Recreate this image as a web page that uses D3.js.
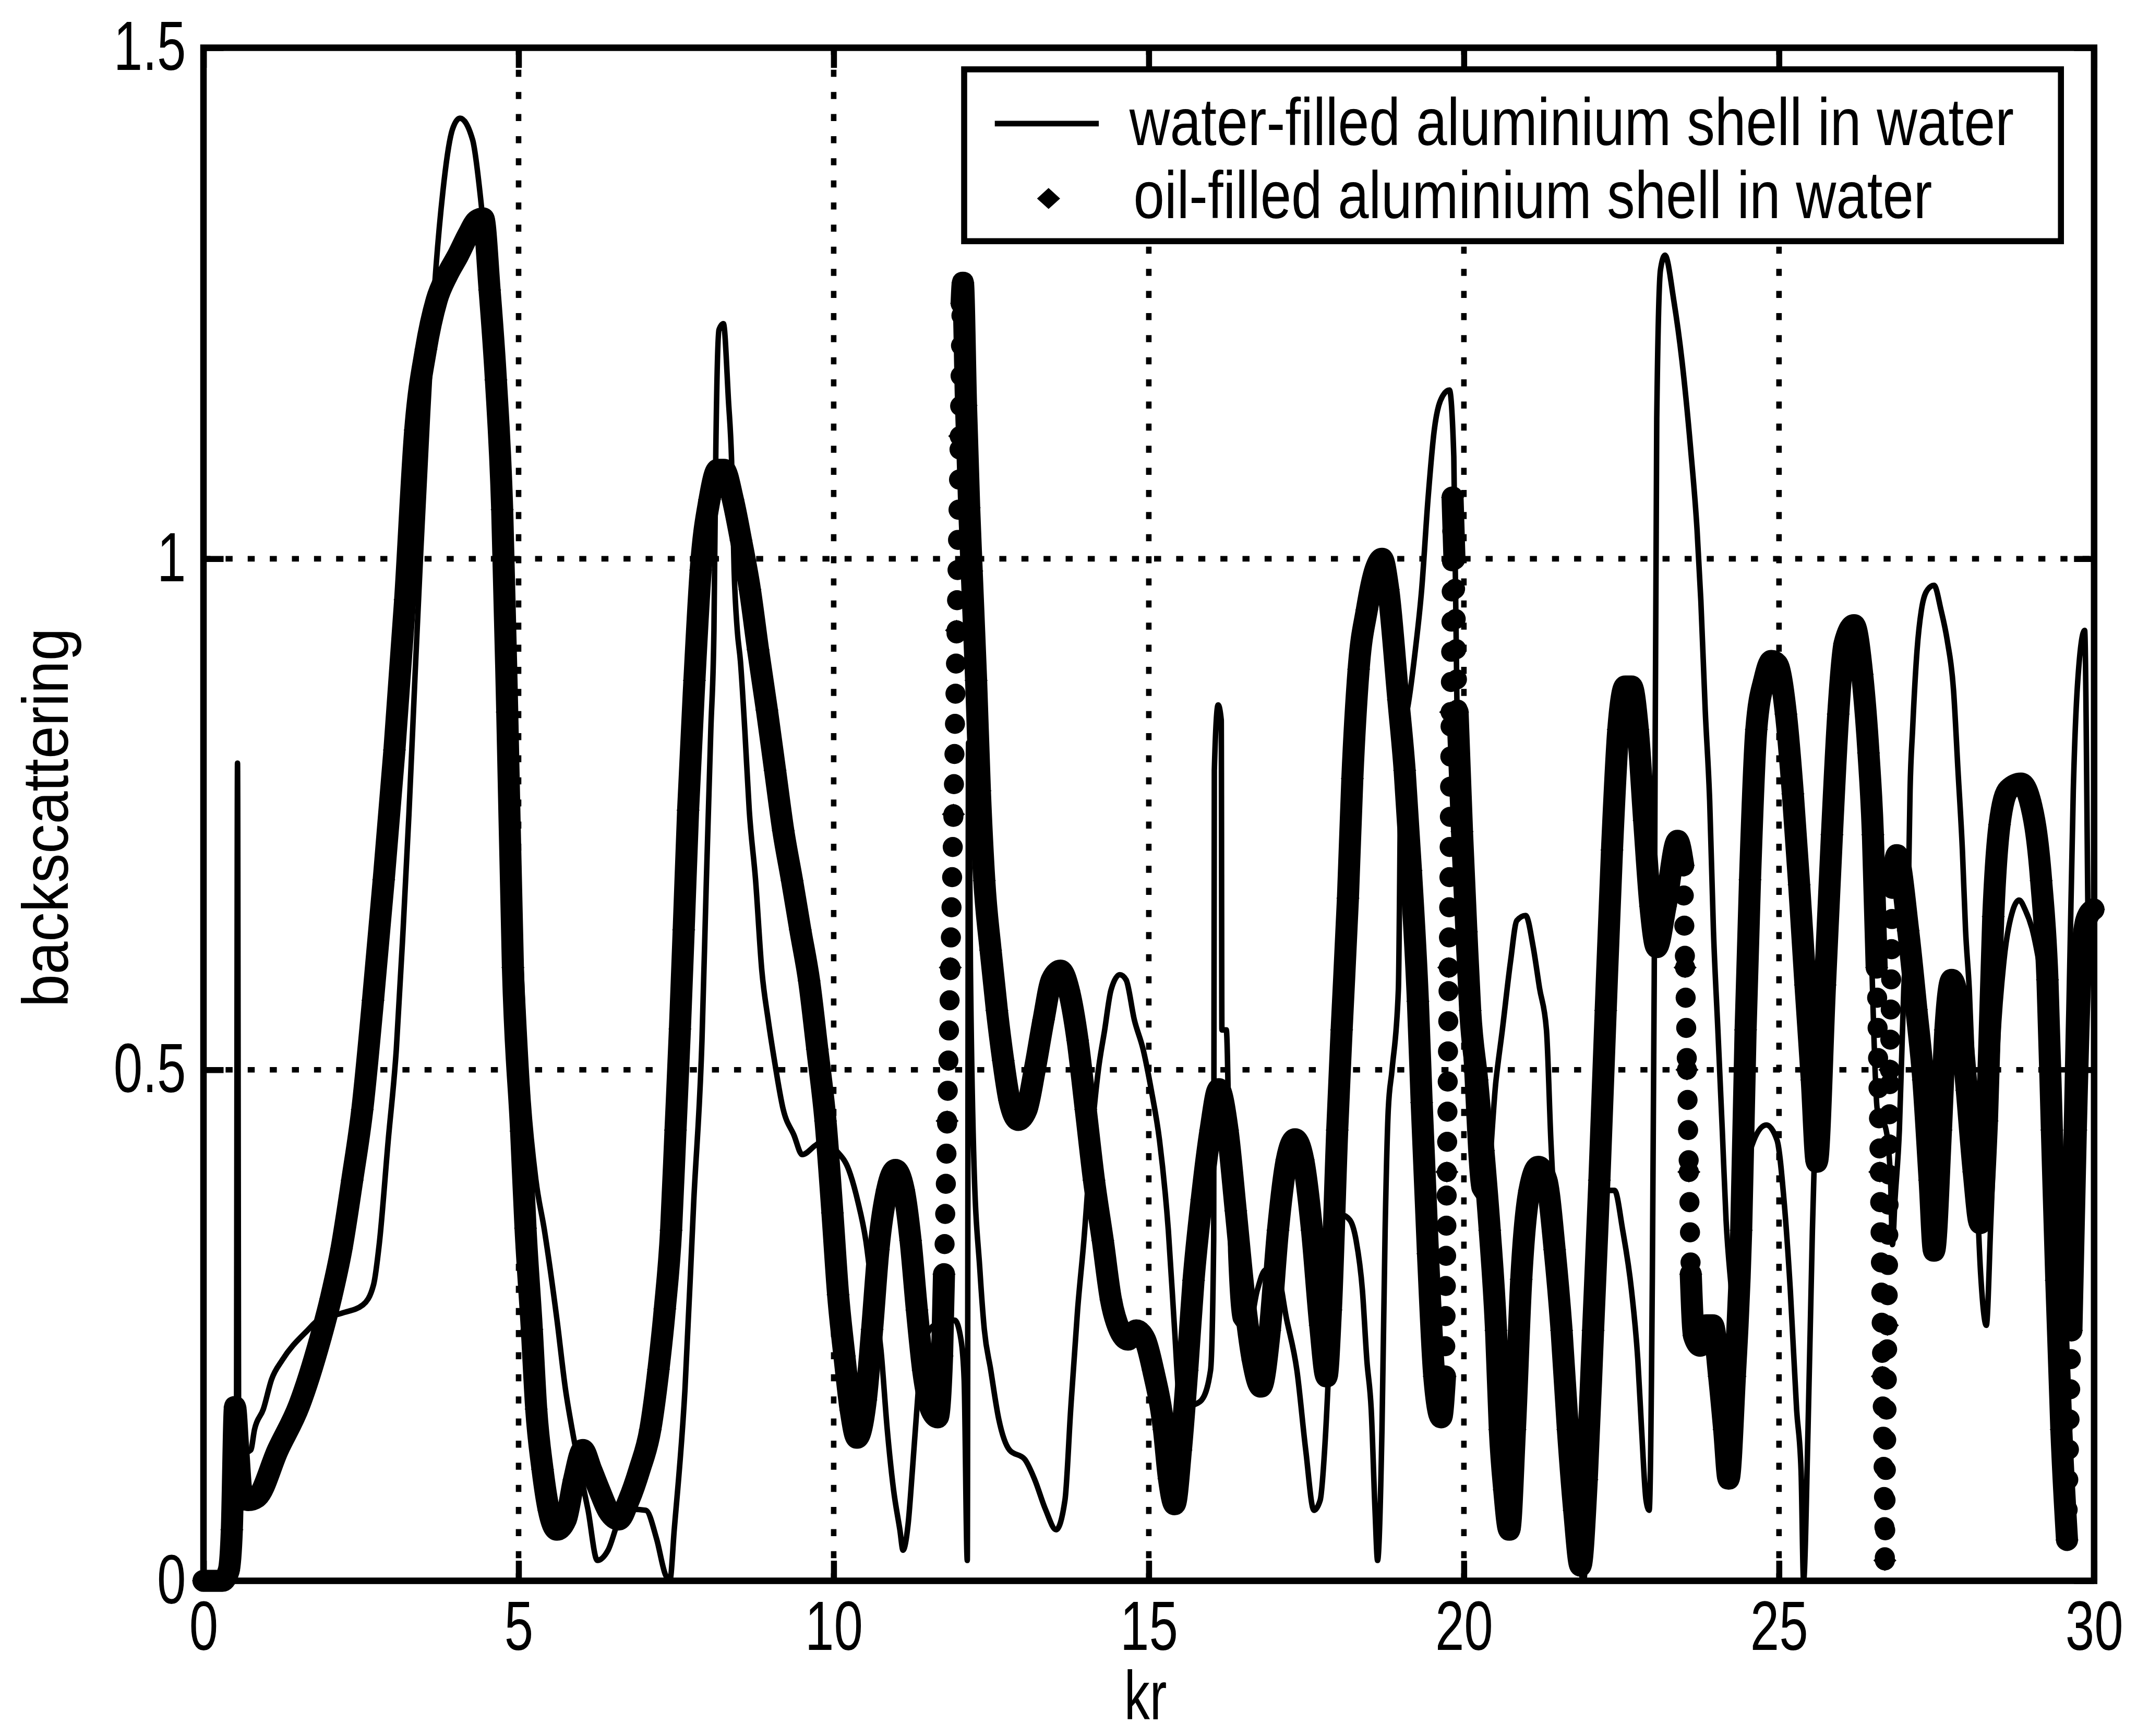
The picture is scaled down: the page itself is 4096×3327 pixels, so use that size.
<!DOCTYPE html>
<html>
<head>
<meta charset="utf-8">
<script src="https://cdn.jsdelivr.net/npm/d3@7"></script>
<style>
  html, body { margin: 0; padding: 0; background: #fff; }
  svg { display: block; }
  text { font-family: "Liberation Sans", Arial, sans-serif; fill: #000; }
</style>
</head>
<body>
<div id="chart"></div>
<script>
// tick values and labels
const xTicks = [0, 5, 10, 15, 20, 25, 30];
const yTicks = [0, 0.5, 1, 1.5];
const xGrid = [5, 10, 15, 20, 25];
const yGrid = [0.5, 1];
const legendLabels = ["water-filled aluminium shell in water", "oil-filled aluminium shell in water"];

// [kr, backscattering]
const waterFilled = [
  [0,0],[0.3,0],[0.45,0.03],[0.52,0.05],[0.54,0.8],[0.56,0.12],[0.65,0.125],[0.75,0.128],[0.81,0.148],
  [0.95,0.168],[1.08,0.197],[1.25,0.216],[1.65,0.245],[1.82,0.255],[2.2,0.262],[2.53,0.27],[2.7,0.29],
  [2.79,0.33],[2.93,0.43],[3.06,0.52],[3.17,0.64],[3.26,0.75],[3.36,0.89],[3.45,1.01],[3.53,1.11],
  [3.65,1.25],[3.8,1.36],[3.95,1.42],[4.07,1.431],[4.27,1.41],[4.4,1.351],[4.6,1.2],[4.8,0.95],[5.0,0.65],
  [5.15,0.47],[5.275,0.392],[5.41,0.343],[5.61,0.255],[5.745,0.187],[5.85,0.148],[6.0,0.1],[6.1,0.07],
  [6.25,0.02],[6.42,0.03],[6.6,0.06],[6.8,0.07],[7.02,0.069],[7.19,0.041],[7.33,0.006],[7.4,0],[7.47,0.05],
  [7.64,0.187],[7.78,0.372],[7.91,0.529],[7.98,0.686],[8.05,0.832],[8.1,0.93],[8.13,1.107],[8.18,1.224],
  [8.25,1.23],[8.33,1.155],[8.38,1.096],[8.42,0.989],[8.47,0.93],[8.52,0.9],[8.59,0.832],[8.66,0.754],
  [8.76,0.686],[8.86,0.597],[8.96,0.549],[9.06,0.509],[9.2,0.461],[9.37,0.436],[9.5,0.417],[9.71,0.426],
  [9.84,0.431],[10.04,0.421],[10.24,0.402],[10.38,0.372],[10.51,0.333],[10.61,0.284],[10.75,0.226],
  [10.85,0.148],[10.95,0.089],[11.05,0.05],[11.1,0.03],[11.18,0.055],[11.25,0.109],[11.32,0.168],
  [11.4,0.225],[11.6,0.25],[11.8,0.252],[11.92,0.255],[12.02,0.236],[12.07,0.197],[12.12,0.02],[12.14,0.82],
  [12.17,0.6],[12.22,0.421],[12.32,0.304],[12.39,0.246],[12.49,0.207],[12.62,0.158],[12.79,0.128],
  [13.03,0.119],[13.19,0.099],[13.36,0.07],[13.53,0.05],[13.67,0.079],[13.76,0.167],[13.87,0.265],
  [13.97,0.333],[14.1,0.44],[14.2,0.5],[14.3,0.539],[14.4,0.578],[14.54,0.593],[14.64,0.588],[14.77,0.549],
  [14.91,0.52],[15.04,0.48],[15.17,0.431],[15.31,0.343],[15.41,0.245],[15.48,0.18],[15.54,0.167],
  [15.71,0.172],[15.84,0.177],[15.98,0.206],[16.03,0.334],[16.04,0.793],[16.1,0.857],[16.15,0.842],
  [16.16,0.539],[16.23,0.539],[16.27,0.441],[16.3,0.323],[16.38,0.255],[16.58,0.245],[16.72,0.284],
  [16.85,0.304],[17.02,0.304],[17.19,0.255],[17.35,0.206],[17.49,0.128],[17.62,0.069],[17.72,0.079],
  [17.79,0.128],[17.86,0.216],[17.93,0.343],[18.06,0.358],[18.19,0.353],[18.29,0.333],[18.39,0.284],
  [18.46,0.216],[18.53,0.167],[18.59,0.069],[18.63,0.02],[18.7,0.148],[18.75,0.343],[18.8,0.461],
  [18.86,0.5],[18.96,0.578],[19.01,0.833],[19.1,0.852],[19.23,0.911],[19.33,0.97],[19.43,1.058],
  [19.53,1.126],[19.67,1.16],[19.77,1.165],[19.84,1.1],[19.9,0.8],[19.97,0.6],[20.04,0.509],[20.17,0.382],
  [20.34,0.372],[20.51,0.49],[20.61,0.539],[20.74,0.606],[20.84,0.646],[20.98,0.651],[21.1,0.62],
  [21.2,0.58],[21.31,0.539],[21.38,0.431],[21.5,0.3],[21.65,0.15],[21.8,0.04],[21.9,0.0],[22.0,0.15],
  [22.1,0.33],[22.18,0.382],[22.39,0.382],[22.52,0.343],[22.66,0.284],[22.76,0.216],[22.82,0.148],
  [22.89,0.079],[22.94,0.069],[22.99,0.295],[23.02,0.588],[23.06,1.137],[23.12,1.283],[23.19,1.297],
  [23.33,1.253],[23.46,1.194],[23.6,1.106],[23.7,1.028],[23.76,0.959],[23.83,0.851],[23.9,0.763],
  [23.96,0.636],[24.03,0.539],[24.1,0.441],[24.16,0.353],[24.23,0.295],[24.33,0.245],[24.47,0.392],
  [24.6,0.431],[24.8,0.446],[24.97,0.431],[25.08,0.372],[25.18,0.284],[25.28,0.167],[25.35,0.108],
  [25.39,0.0],[25.46,0.147],[25.53,0.343],[25.6,0.5],[25.7,0.6],[25.85,0.75],[26.0,0.9],[26.2,0.94],
  [26.35,0.85],[26.45,0.65],[26.56,0.461],[26.7,0.441],[26.77,0.392],[26.8,0.329],[26.84,0.372],
  [26.91,0.441],[26.98,0.579],[27.05,0.666],[27.08,0.774],[27.12,0.833],[27.19,0.91],[27.26,0.95],
  [27.36,0.97],[27.46,0.974],[27.57,0.95],[27.67,0.92],[27.77,0.871],[27.84,0.793],[27.91,0.715],
  [27.96,0.637],[28.02,0.578],[28.1,0.45],[28.2,0.3],[28.29,0.25],[28.36,0.35],[28.47,0.529],
  [28.57,0.607],[28.71,0.656],[28.81,0.666],[28.91,0.656],[29.02,0.637],[29.12,0.607],[29.26,0.549],
  [29.33,0.49],[29.4,0.45],[29.5,0.33],[29.6,0.559],[29.67,0.774],[29.74,0.88],[29.85,0.93],[29.92,0.6],
  [30,0.62]
];

const oilFilled = [
  [0,0],[0.3,0],[0.4,0.01],[0.45,0.05],[0.5,0.17],[0.55,0.13],[0.6,0.09],[0.71,0.079],[0.85,0.082],
  [1.18,0.128],[1.52,0.172],[1.85,0.236],[2.02,0.276],[2.19,0.325],[2.36,0.392],[2.52,0.461],[2.69,0.568],
  [2.86,0.686],[3.03,0.813],[3.2,0.96],[3.36,1.126],[3.53,1.205],[3.7,1.253],[3.87,1.278],[4.04,1.297],
  [4.2,1.317],[4.34,1.331],[4.44,1.333],[4.54,1.263],[4.64,1.175],[4.74,1.048],[4.82,0.85],[4.91,0.6],
  [5.04,0.44],[5.11,0.345],[5.21,0.246],[5.28,0.168],[5.38,0.109],[5.48,0.069],[5.61,0.05],[5.75,0.06],
  [5.88,0.099],[6.02,0.128],[6.15,0.109],[6.28,0.089],[6.42,0.069],[6.59,0.06],[6.75,0.079],[6.92,0.109],
  [7.09,0.148],[7.22,0.207],[7.32,0.266],[7.42,0.343],[7.49,0.441],[7.56,0.54],[7.62,0.637],[7.69,0.754],
  [7.79,0.881],[7.89,0.989],[8.03,1.058],[8.16,1.087],[8.26,1.087],[8.4,1.058],[8.53,1.018],[8.67,0.97],
  [8.8,0.911],[8.94,0.852],[9.07,0.793],[9.2,0.734],[9.34,0.685],[9.47,0.637],[9.61,0.587],[9.74,0.52],
  [9.87,0.45],[9.98,0.36],[10.07,0.28],[10.17,0.22],[10.27,0.167],[10.37,0.14],[10.51,0.177],[10.61,0.246],
  [10.71,0.324],[10.85,0.383],[10.98,0.402],[11.11,0.383],[11.22,0.333],[11.32,0.265],[11.42,0.206],
  [11.55,0.167],[11.65,0.16],[11.72,0.22],[11.75,0.3],[11.8,0.45],[11.85,0.6],[11.9,0.75],[11.95,0.93],
  [12.0,1.12],[12.03,1.25],[12.05,1.27],[12.1,1.15],[12.15,1.05],[12.19,0.988],[12.26,0.881],[12.32,0.773],
  [12.39,0.685],[12.49,0.617],[12.59,0.558],[12.69,0.509],[12.79,0.47],[12.93,0.451],[13.06,0.461],
  [13.19,0.5],[13.33,0.549],[13.46,0.588],[13.6,0.597],[13.73,0.578],[13.87,0.529],[14.0,0.461],
  [14.13,0.392],[14.27,0.333],[14.4,0.275],[14.54,0.245],[14.67,0.236],[14.8,0.245],[14.94,0.236],
  [15.07,0.206],[15.24,0.148],[15.32,0.1],[15.41,0.075],[15.51,0.128],[15.61,0.206],[15.71,0.294],
  [15.84,0.373],[15.98,0.441],[16.11,0.481],[16.25,0.441],[16.38,0.362],[16.52,0.275],[16.65,0.216],
  [16.78,0.19],[16.92,0.245],[17.05,0.343],[17.19,0.412],[17.32,0.432],[17.45,0.412],[17.59,0.343],
  [17.72,0.25],[17.82,0.2],[17.89,0.265],[17.99,0.441],[18.06,0.539],[18.16,0.668],[18.23,0.785],
  [18.33,0.892],[18.46,0.95],[18.6,0.99],[18.7,1.0],[18.8,0.97],[18.96,0.862],[19.06,0.793],[19.16,0.695],
  [19.27,0.567],[19.33,0.468],[19.43,0.32],[19.53,0.2],[19.64,0.16],[19.7,0.2],[19.73,0.4],[19.76,0.6],
  [19.79,0.85],[19.82,1.06],[19.85,1.0],[19.9,0.85],[19.97,0.733],[20.04,0.635],[20.1,0.558],[20.21,0.49],
  [20.31,0.421],[20.41,0.343],[20.51,0.245],[20.57,0.148],[20.64,0.089],[20.72,0.05],[20.81,0.148],
  [20.91,0.295],[21.04,0.382],[21.18,0.405],[21.31,0.392],[21.44,0.324],[21.55,0.245],[21.65,0.148],
  [21.75,0.069],[21.85,0.015],[21.95,0.099],[22.05,0.245],[22.15,0.392],[22.25,0.558],[22.35,0.715],
  [22.45,0.833],[22.56,0.875],[22.66,0.875],[22.76,0.833],[22.86,0.744],[22.96,0.66],[23.06,0.62],
  [23.2,0.66],[23.39,0.724],[23.48,0.7],[23.51,0.6],[23.54,0.5],[23.57,0.4],[23.6,0.3],[23.65,0.24],
  [23.75,0.23],[23.85,0.25],[23.95,0.25],[24.05,0.2],[24.13,0.148],[24.2,0.1],[24.3,0.2],[24.4,0.343],
  [24.47,0.539],[24.54,0.686],[24.64,0.833],[24.77,0.882],[24.88,0.9],[24.97,0.897],[25.11,0.848],
  [25.22,0.77],[25.32,0.681],[25.42,0.583],[25.52,0.49],[25.6,0.41],[25.73,0.583],[25.84,0.73],
  [25.94,0.848],[26.04,0.917],[26.19,0.935],[26.32,0.887],[26.42,0.81],[26.49,0.73],[26.55,0.6],
  [26.6,0.4],[26.64,0.2],[26.68,0.02],[26.72,0.25],[26.76,0.5],[26.8,0.68],[26.87,0.71],[27.05,0.636],
  [27.18,0.559],[27.29,0.49],[27.39,0.392],[27.46,0.323],[27.57,0.441],[27.64,0.539],[27.74,0.588],
  [27.88,0.549],[27.98,0.48],[28.09,0.4],[28.19,0.35],[28.3,0.45],[28.4,0.65],[28.5,0.74],[28.64,0.774],
  [28.84,0.78],[28.98,0.764],[29.16,0.685],[29.26,0.588],[29.33,0.441],[29.4,0.294],[29.48,0.148],
  [29.57,0.04],[29.64,0.245],[29.71,0.441],[29.78,0.588],[29.88,0.647],[29.99,0.657]
];

// layout in reference pixels, whole drawing scaled to the window
const S = 0.963;
const plot = { left: 405, right: 4168, top: 95, bottom: 3146 };
const FONT = "Liberation Sans, Arial, sans-serif";

const svg = d3.select("#chart").append("svg")
  .attr("width", 4096)
  .attr("height", 3327);

const g = svg.append("g").attr("transform", `scale(${S})`);

const x = d3.scaleLinear().domain([0, 30]).range([plot.left, plot.right]);
const y = d3.scaleLinear().domain([0, 1.5]).range([plot.bottom, plot.top]);

// dotted grid
const grid = g.append("g")
  .attr("stroke", "#000")
  .attr("stroke-width", 11)
  .attr("stroke-dasharray", "14 30");

grid.selectAll("line.v").data(xGrid).join("line")
  .attr("class", "v")
  .attr("x1", d => x(d)).attr("x2", d => x(d))
  .attr("y1", plot.top).attr("y2", plot.bottom);

grid.selectAll("line.h").data(yGrid).join("line")
  .attr("class", "h")
  .attr("x1", plot.left).attr("x2", plot.right)
  .attr("y1", d => y(d)).attr("y2", d => y(d));

// oil-filled: the markers are so dense they form a thick band;
// where the curve is nearly vertical they separate into single dots
const line = d3.line()
  .x(d => x(d[0]))
  .y(d => y(d[1]))
  .curve(d3.curveMonotoneX);

const steep = (a, b) => Math.abs(y(b[1]) - y(a[1])) / Math.abs(x(b[0]) - x(a[0])) > 46;

const runs = [];
const steepSegs = [];
let run = [oilFilled[0]];
for (let i = 1; i < oilFilled.length; i++) {
  const a = oilFilled[i - 1], b = oilFilled[i];
  if (steep(a, b)) {
    steepSegs.push([a, b]);
    runs.push(run);
    run = [b];
  } else {
    run.push(b);
  }
}
runs.push(run);

const band = g.append("g");

band.selectAll("path.run")
  .data(runs.filter(r => r.length > 1))
  .join("path")
  .attr("class", "run")
  .attr("d", line)
  .attr("fill", "none")
  .attr("stroke", "#000")
  .attr("stroke-width", 44)
  .attr("stroke-linejoin", "round")
  .attr("stroke-linecap", "round");

band.selectAll("line.steep")
  .data(steepSegs)
  .join("line")
  .attr("class", "steep")
  .attr("x1", d => x(d[0][0])).attr("y1", d => y(d[0][1]))
  .attr("x2", d => x(d[1][0])).attr("y2", d => y(d[1][1]))
  .attr("stroke", "#000")
  .attr("stroke-width", 40)
  .attr("stroke-linecap", "round")
  .attr("stroke-dasharray", "0 60");

const diamond = "M0,-21 L23,0 L0,21 L-23,0 Z";

band.selectAll("path.pt")
  .data(oilFilled)
  .join("path")
  .attr("class", "pt")
  .attr("d", diamond)
  .attr("transform", d => `translate(${x(d[0])},${y(d[1])})`)
  .attr("fill", "#000");

// water-filled: thin line
g.append("path")
  .datum(waterFilled)
  .attr("d", line)
  .attr("fill", "none")
  .attr("stroke", "#000")
  .attr("stroke-width", 11)
  .attr("stroke-linejoin", "round");

// axes (ticks point inwards on all four sides)
const tickLen = 40;
const tickFont = 138;
const narrow = 0.75;

const xAxis = g.append("g")
  .attr("transform", `translate(0,${plot.bottom})`)
  .call(d3.axisBottom(x).tickValues(xTicks).tickSize(-tickLen).tickPadding(40).tickFormat(d3.format("d")));

const xAxisTop = g.append("g")
  .attr("transform", `translate(0,${plot.top})`)
  .call(d3.axisTop(x).tickValues(xTicks).tickSize(-tickLen).tickFormat(""));

const yAxis = g.append("g")
  .attr("transform", `translate(${plot.left},0)`)
  .call(d3.axisLeft(y).tickValues(yTicks).tickSize(-tickLen).tickPadding(35).tickFormat(d => String(d)));

const yAxisRight = g.append("g")
  .attr("transform", `translate(${plot.right},0)`)
  .call(d3.axisRight(y).tickValues(yTicks).tickSize(-tickLen).tickFormat(""));

[xAxis, xAxisTop, yAxis, yAxisRight].forEach(a => {
  a.attr("font-family", FONT).attr("font-size", tickFont);
  a.select(".domain").remove();
  a.selectAll(".tick line").attr("stroke", "#000").attr("stroke-width", 12);
  a.selectAll(".tick text").attr("fill", "#000");
});

xAxis.selectAll(".tick text").attr("transform", `scale(${narrow},1)`);
yAxis.selectAll(".tick text")
  .attr("x", -35 / narrow)
  .attr("transform", `scale(${narrow},1)`);

g.append("rect")
  .attr("x", plot.left).attr("y", plot.top)
  .attr("width", plot.right - plot.left)
  .attr("height", plot.bottom - plot.top)
  .attr("fill", "none")
  .attr("stroke", "#000")
  .attr("stroke-width", 13);

// axis titles
g.append("text")
  .attr("transform", `translate(2280,3422) scale(${narrow},1)`)
  .attr("text-anchor", "middle")
  .attr("font-size", 136)
  .text("kr");

g.append("text")
  .attr("transform", "translate(135,1627) rotate(-90) scale(0.9,1)")
  .attr("text-anchor", "middle")
  .attr("font-size", 130)
  .text("backscattering");

// legend
const legend = g.append("g");

legend.append("rect")
  .attr("x", 1919).attr("y", 138)
  .attr("width", 2183).attr("height", 342)
  .attr("fill", "#fff")
  .attr("stroke", "#000")
  .attr("stroke-width", 12);

legend.append("line")
  .attr("x1", 1980).attr("x2", 2187)
  .attr("y1", 246).attr("y2", 246)
  .attr("stroke", "#000")
  .attr("stroke-width", 11);

legend.append("path")
  .attr("d", diamond)
  .attr("transform", "translate(2087,395)")
  .attr("fill", "#000");

legend.append("text")
  .attr("transform", "translate(2248,289) scale(0.845,1)")
  .attr("font-size", 132)
  .text(legendLabels[0]);

legend.append("text")
  .attr("transform", "translate(2256,434) scale(0.84,1)")
  .attr("font-size", 132)
  .text(legendLabels[1]);
</script>
</body>
</html>
